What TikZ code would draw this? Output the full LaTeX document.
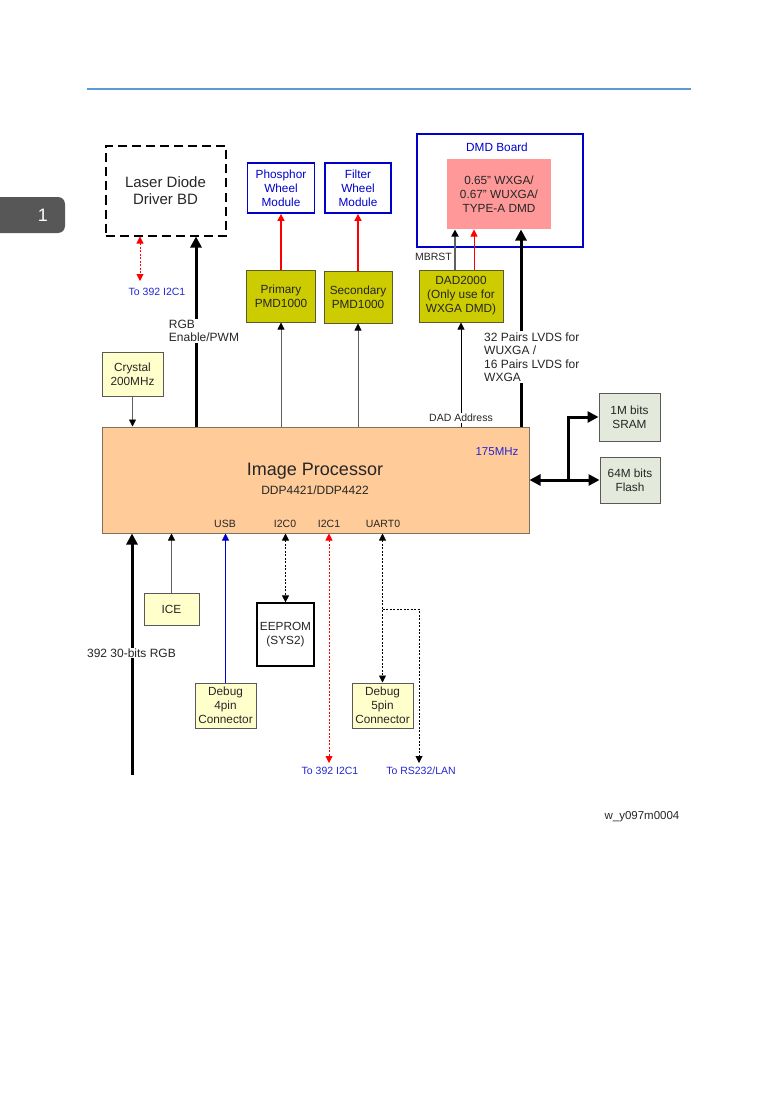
\documentclass[tikz,border=0pt]{standalone}
\usepackage{fontspec}
\setmainfont{Liberation Sans}
\usetikzlibrary{arrows.meta, positioning, calc}
\definecolor{ruleblue}{HTML}{5B9BD5}
\definecolor{tabgray}{HTML}{575757}
\definecolor{olivefill}{HTML}{CCCC00}
\definecolor{oliveline}{HTML}{5A5A30}
\definecolor{peachfill}{HTML}{FFCC99}
\definecolor{peachline}{HTML}{7F7060}
\definecolor{pinkfill}{HTML}{FF9999}
\definecolor{paleyellow}{HTML}{FFFFCC}
\definecolor{palegreen}{HTML}{E3EADB}
\definecolor{boxblue}{HTML}{0000CC}
\definecolor{labelblue}{HTML}{2525D5}
\definecolor{txtgray}{HTML}{262626}
\newcommand{\boxfont}{\fontsize{11.8}{14}\selectfont}
\newcommand{\notefont}{\fontsize{10.5}{13.5}\selectfont}
\newcommand{\bignotefont}{\fontsize{12}{13.5}\selectfont}

\begin{document}
\begin{tikzpicture}[x=1pt, y=-1pt,
    block/.style={draw, line width=1pt, align=center, inner sep=1pt,
                  font=\boxfont, text=txtgray},
    pmdbox/.style={block, fill=olivefill, draw=oliveline},
    pale/.style={block, fill=paleyellow, draw=gray!70!black},
    memo/.style={block, fill=palegreen, draw=gray!70!black},
    wheel/.style={block, draw=boxblue, line width=1.8pt, text=boxblue},
    note/.style={font=\notefont, text=txtgray, inner sep=1pt, align=left},
    bignote/.style={note, font=\bignotefont, fill=white},
    bluenote/.style={note, text=labelblue},
    arr/.style={-{Triangle[length=7pt, width=7pt, color=black]},
                line width=0.8pt, gray!75!black},
    fatarr/.style={-{Triangle[length=11pt, width=11pt]}, line width=3pt},
    redarr/.style={-{Triangle[length=7pt, width=7pt]}, line width=1.5pt, red},
    dotarr/.style={{Triangle[length=7pt, width=7pt]}-{Triangle[length=7pt, width=7pt]},
                   line width=0.9pt, dash pattern=on 2pt off 1.5pt}
  ]
    \useasboundingbox (0,0) rectangle (777,1102);

    % page decoration
    \coordinate (ruleL) at (87,89);
    \coordinate (ruleR) at (691,89);
    \draw[ruleblue, line width=2pt] (ruleL) -- (ruleR);
    \node[fill=tabgray, rounded corners=7pt, minimum width=80,
          minimum height=36] (tab) at (25,215) {};
    \node[text=white, font=\fontsize{18}{20}\selectfont] (tabnum) at (43,215) {1};

    % upper blocks
    \node[block, draw=black, line width=2pt, dash pattern=on 9pt off 5pt,
          minimum width=120, minimum height=89,
          font=\fontsize{15}{17}\selectfont] (LD) at (165.5,191)
      {Laser Diode\\Driver BD};
    \node[wheel, minimum width=67, minimum height=50] (PW) at (281,188)
      {Phosphor\\Wheel\\Module};
    \node[wheel, minimum width=66, minimum height=50] (FW) at (358,188)
      {Filter\\Wheel\\Module};
    \node[pmdbox, minimum width=69, minimum height=52] (PP) at (281,296)
      {Primary\\PMD1000};
    \node[pmdbox, minimum width=68, minimum height=52] (SP) at (358,297)
      {Secondary\\PMD1000};
    \node[block, draw=boxblue, line width=1.8pt, minimum width=166,
          minimum height=113] (DB) at (500,190.5) {};
    \node[font=\boxfont, text=boxblue] (DBtitle) at (497,147) {DMD Board};
    \node[block, draw=none, fill=pinkfill, minimum width=104,
          minimum height=70] (DMD) at (499,194)
      {0.65" WXGA/\\0.67" WUXGA/\\TYPE-A DMD};
    \node[pmdbox, minimum width=84, minimum height=52] (DAD) at (461,296)
      {DAD2000\\(Only use for\\WXGA DMD)};
    \node[pale, minimum width=61, minimum height=44] (XT) at (132.5,374)
      {Crystal\\200MHz};

    % image processor
    \node[block, fill=peachfill, draw=peachline, minimum width=427,
          minimum height=106] (IP) at (315.5,480) {};
    \node[font=\fontsize{18}{20}\selectfont, text=txtgray] (IPname) at (315,471)
      {Image Processor};
    \node[font=\fontsize{12}{14}\selectfont, text=txtgray] (IPpart) at (315,490)
      {DDP4421/DDP4422};
    \node[note, font=\fontsize{11.5}{14}\selectfont, text=labelblue] (clk)
      at (497,452) {175MHz};
    \node[note] (pUSB) at (225,524) {USB};
    \node[note] (pI2C0) at (285,524) {I2C0};
    \node[note] (pI2C1) at (329,524) {I2C1};
    \node[note] (pUART) at (383,524) {UART0};

    % memories
    \node[memo, minimum width=61, minimum height=48] (SR) at (629.5,417)
      {1M bits\\SRAM};
    \node[memo, minimum width=60, minimum height=46] (FL) at (630,480)
      {64M bits\\Flash};

    % lower blocks
    \node[pale, minimum width=55, minimum height=32] (ICE) at (171.5,609) {ICE};
    \node[pale, minimum width=61, minimum height=45] (D4) at (225.5,705.5)
      {Debug\\4pin\\Connector};
    \node[block, fill=white, draw=black, line width=1.2pt, minimum width=57,
          minimum height=63] (EE) at (285.5,634.5) {EEPROM\\(SYS2)};
    \node[pale, minimum width=61, minimum height=45] (D5) at (382.5,705.5)
      {Debug\\5pin\\Connector};

    % free ends and x positions
    \coordinate (ldi2c) at (140,281);
    \coordinate (rgbx) at (196,330);
    \coordinate (lvdsx) at (521,350);
    \coordinate (busx) at (568,450);
    \coordinate (rgbin) at (132,775);
    \coordinate (i2cout) at (329,763);
    \coordinate (uartbr) at (383,609);
    \coordinate (rsout) at (419,763);

    % upper connectors
    \draw[dotarr, red] (LD.south -| ldi2c) -- (ldi2c);
    \node[bluenote] (ldto) at (157,292) {To 392 I2C1};
    \draw[fatarr] (IP.north -| rgbx) -- (LD.south -| rgbx);
    \node[bignote] (rgbl) at (204,331) {RGB\\Enable/PWM};
    \draw[arr] (IP.north -| PP) -- (PP.south);
    \draw[arr] (IP.north -| SP) -- (SP.south);
    \draw[redarr] (PP.north) -- (PW.south);
    \draw[redarr] (SP.north) -- (FW.south);
    \draw[arr, line width=1.6pt] ([xshift=-6]DAD.north) -- ([xshift=-6]DAD.north |- DMD.south);
    \draw[redarr, line width=0.7pt] ([xshift=13]DAD.north) -- ([xshift=13]DAD.north |- DMD.south);
    \node[note, anchor=east] (mbrst) at (453,257) {MBRST};
    \draw[arr, black] (IP.north -| DAD) -- (DAD.south);
    \node[note, fill=white] (dadad) at (461,418) {DAD Address};
    \draw[fatarr] (IP.north -| lvdsx) -- (DMD.south -| lvdsx);
    \node[bignote, anchor=west] (lvds) at (483,357)
      {32 Pairs LVDS for\\WUXGA /\\16 Pairs LVDS for\\WXGA};
    \draw[arr] (XT.south) -- (IP.north -| XT);

    % memory bus
    \draw[fatarr, {Triangle[length=11pt, width=11pt]}-{Triangle[length=11pt, width=11pt]}]
      (IP.east |- FL) -- (FL.west);
    \draw[fatarr] (busx |- FL) |- (SR.west);

    % lower connectors
    \draw[fatarr] (rgbin) -- (IP.south -| rgbin);
    \node[bignote] (rgbinl) at (131.5,653) {392 30-bits RGB};
    \draw[arr] (ICE.north) -- (IP.south -| ICE);
    \draw[-{Triangle[length=7pt, width=7pt]}, line width=0.8pt, blue!80!black]
      (D4.north) -- (IP.south -| D4);
    \draw[dotarr] (IP.south -| EE) -- (EE.north);
    \draw[dotarr, red] (IP.south -| i2cout) -- (i2cout);
    \node[bluenote] (i2cto) at (330,771) {To 392 I2C1};
    \draw[dotarr] (IP.south -| D5) -- (D5.north);
    \draw[dotarr, -{Triangle[length=7pt, width=7pt]}] (uartbr -| D5) -| (rsout);
    \node[bluenote] (rsto) at (421,771) {To RS232/LAN};

    \node[note, font=\fontsize{11.5}{14}\selectfont] (fig) at (642,817) {w\_y097m0004};
  \end{tikzpicture}
\end{document}
